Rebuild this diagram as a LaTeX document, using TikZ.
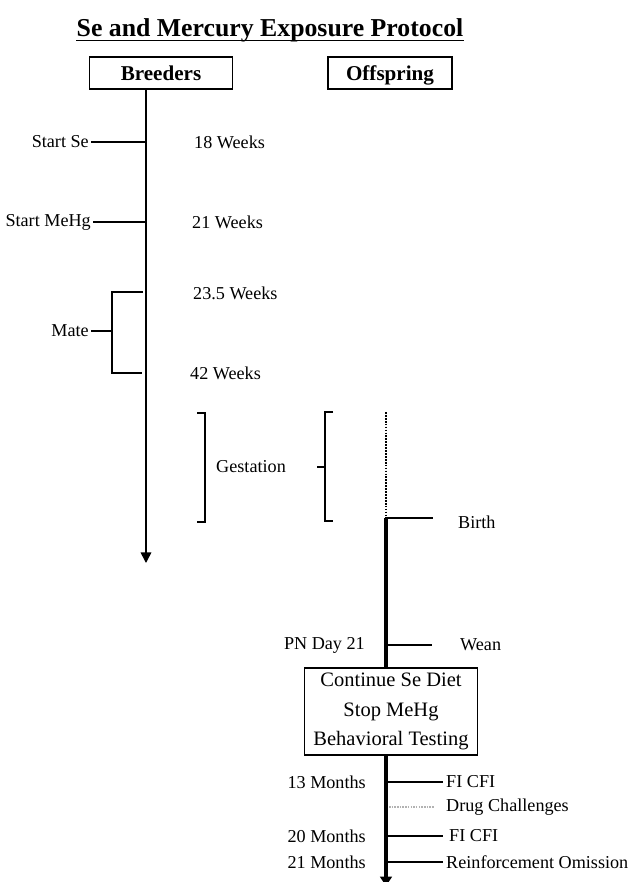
\documentclass[tikz,border=0pt]{standalone}
\usepackage{fontspec}
\setmainfont{Liberation Serif}
\usetikzlibrary{arrows.meta,positioning,calc}

\tikzset{
	title/.style	= {font=\fontsize{22}{24}\selectfont\bfseries, inner sep=0pt},
	hdr/.style		= {draw, line width=1.2pt, font=\fontsize{18}{20}\selectfont\bfseries, minimum height=0.96cm, inner sep=0pt, text height=12.5pt, text depth=0pt},
	lbl/.style		= {font=\fontsize{15.5}{17}\selectfont, inner sep=0pt},
	tick/.style		= {line width=1.3pt},
	bline/.style	= {line width=1.3pt, -{Triangle[length=9pt,width=9pt]}},
	oline/.style	= {line width=2.6pt, -{Triangle[length=8pt,width=10pt]}},
	diet/.style		= {draw, line width=1.2pt, fill=white, align=center, font=\fontsize{17.5}{25.5}\selectfont, minimum width=5.19cm, minimum height=2.61cm, inner sep=0pt},
}

\begin{document}
\begin{tikzpicture}[x=0.03cm,y=-0.03cm]
	\useasboundingbox (0,0) rectangle (633,882);

	\node[title,anchor=base]				(title)		at (270,36)		{Se and Mercury Exposure Protocol};
	\draw[line width=1.1pt]	([yshift=-4pt]title.base west) -- ([yshift=-4pt]title.base east);
	\node[hdr,minimum width=4.29cm]			(breeders)	at (161,73)		{Breeders};
	\node[hdr,minimum width=3.72cm]			(offspring)	at (390,73)		{Offspring};

	\coordinate								(bEnd)		at (146,563);
	\draw[bline]	(breeders.south -| bEnd) -- (bEnd);

	\node[lbl,anchor=east]					(startSe)	at (89,142)		{Start Se};
	\node[lbl,anchor=east]					(startHg)	at (91,222)		{Start MeHg};
	\node[lbl,anchor=east]					(mate)		at (89,331)		{Mate};
	\node[lbl,anchor=west]					(w18)		at (194,142)	{18 Weeks};
	\node[lbl,anchor=west]					(w21)		at (192,222)	{21 Weeks};
	\node[lbl,anchor=west]					(w23)		at (193,293)	{23.5 Weeks};
	\node[lbl,anchor=west]					(w42)		at (190,373)	{42 Weeks};

	\draw[tick]		(startSe.east) ++(2,0) -- (startSe.east -| bEnd);
	\draw[tick]		(startHg.east) ++(2,0) -- (startHg.east -| bEnd);
	\coordinate								(mTop)		at (112,292);
	\coordinate								(mBot)		at (112,373);
	\draw[tick]		(mTop -| bEnd) ++(-3,0) -- (mTop) -- (mBot) -- ++(30,0);
	\draw[tick]		(mate.east) ++(2,0) -- (mate.east -| mTop);

	\node[lbl,anchor=west]					(gest)		at (216,467)	{Gestation};
	\draw[tick]		(197,413) -- (205,413) -- (205,522) -- (197,522);
	\draw[tick]		(333,412) -- (325,412) -- (325,521) -- (333,521);
	\draw[tick]		(317,467) -- (325,467);

	\coordinate								(oTop)		at (386,412);
	\coordinate								(birth)		at (386,518);
	\coordinate								(oEnd)		at (386,886);
	\draw[line width=1.5pt, densely dotted]	(oTop) -- (birth);
	\draw[oline]	(birth) -- (oEnd);

	\draw[tick]		(birth) -- ++(47,0);
	\node[lbl,anchor=west]					(birthL)	at (458,522)	{Birth};

	\coordinate								(wean)		at (386,645);
	\node[lbl,anchor=east]					(pn21)		at (365,645)	{PN Day 21};
	\draw[tick]		(wean) -- ++(46,0);
	\node[lbl,anchor=west]					(weanL)		at (460,645)	{Wean};

	\node[diet]								(cont)		at (391,711.5)	{Continue Se Diet\\Stop MeHg\\Behavioral Testing};

	\node[lbl,anchor=east]					(m13)		at (366,782)	{13 Months};
	\node[lbl,anchor=east]					(m20)		at (366,836)	{20 Months};
	\node[lbl,anchor=east]					(m21)		at (366,862)	{21 Months};
	\node[lbl,anchor=west]					(fi1)		at (446,782)	{FI CFI};
	\node[lbl,anchor=west]					(drug)		at (446,807)	{Drug Challenges};
	\node[lbl,anchor=west]					(fi2)		at (449,836)	{FI CFI};
	\node[lbl,anchor=west]					(omit)		at (446,862)	{Reinforcement Omission};

	\draw[tick]		(fi1.west -| oEnd) -- ($(fi1.west)+(-3,0)$);
	\draw[line width=1.3pt, gray!60, densely dotted]	(drug.west -| oEnd) ++(3,0) -- ($(drug.west)+(-12,0)$);
	\draw[tick]		(fi2.west -| oEnd) -- ($(fi2.west)+(-6,0)$);
	\draw[tick]		(omit.west -| oEnd) -- ($(omit.west)+(-3,0)$);
\end{tikzpicture}
\end{document}
